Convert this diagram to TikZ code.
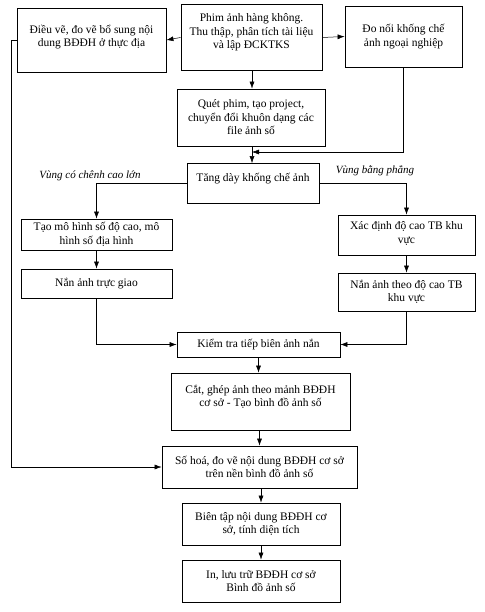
\documentclass[tikz,border=0pt]{standalone}
\usepackage{fontspec}
\setmainfont{Liberation Serif}
\usetikzlibrary{arrows.meta,positioning}
% text set higher than the middle of its box
\newcommand{\lifted}[2]{\raisebox{#1}[0pt][0pt]{\begin{tabular}{@{}c@{}}#2\end{tabular}}}

\begin{document}
\begin{tikzpicture}[
    x=1pt, y=-1pt,
    font=\fontsize{11.5}{13.5}\selectfont,
    stepbox/.style={rectangle, draw, line width=0.8pt, align=center, inner sep=2pt},
    region/.style={font=\fontsize{11}{13}\selectfont\itshape},
    arrow/.style={-{Latex[length=7pt,width=5pt]}, line width=0.5pt},
    link/.style={line width=0.5pt}
]
\useasboundingbox (0,0) rectangle (484,612);

% Top row: source data and field work
\node[stepbox, minimum width=149pt, minimum height=64pt] (edit) at (91.5,40)
    {\lifted{-0.5pt}{Điều vẽ, đo vẽ bổ sung nội\\dung BĐĐH ở thực địa}};
\node[stepbox, minimum width=141pt, minimum height=66pt] (film) at (251.5,37.5)
    {\lifted{2pt}{Phim ảnh hàng không.\\Thu thập, phân tích tài liệu\\và lập ĐCKTKS}};
\node[stepbox, minimum width=117pt, minimum height=61pt] (survey) at (403.5,36.5)
    {\lifted{-3.5pt}{Đo nối khống chế\\ảnh ngoại nghiệp}};

\node[stepbox, minimum width=148pt, minimum height=57pt] (scan) at (251,117.5)
    {Quét phim, tạo project,\\chuyển đổi khuôn dạng các\\file ảnh số};
\node[stepbox, minimum width=132pt, minimum height=40pt] (densify) at (253,183.5)
    {\lifted{1.5pt}{Tăng dày khống chế ảnh}};

% Two branches
\node[stepbox, minimum width=151pt, minimum height=31pt] (dem) at (96.5,234.5)
    {Tạo mô hình số độ cao, mô\\hình số địa hình};
\node[stepbox, minimum width=151pt, minimum height=29pt] (ortho) at (96.5,283.5)
    {Nắn ảnh trực giao};
\node[stepbox, minimum width=137pt, minimum height=40pt] (avgh) at (406.5,235)
    {\lifted{-2pt}{Xác định độ cao TB khu\\vực}};
\node[stepbox, minimum width=137pt, minimum height=38pt] (flat) at (406.5,292)
    {Nắn ảnh theo độ cao TB\\khu vực};

\node[region] (hilly) at (90,176) {Vùng có chênh cao lớn};
\node[region] (plain) at (375,171) {Vùng bằng phẳng};

% Main column
\node[stepbox, minimum width=163pt, minimum height=25pt] (check) at (258.5,344.5)
    {Kiểm tra tiếp biên ảnh nắn};
\node[stepbox, minimum width=179pt, minimum height=57pt] (mosaic) at (260.5,401.5)
    {\lifted{1pt}{Cắt, ghép ảnh theo mảnh BĐĐH\\cơ sở - Tạo bình đồ ảnh số}};
\node[stepbox, minimum width=195pt, minimum height=42pt] (digit) at (259.5,467)
    {Số hoá, đo vẽ nội dung BĐĐH cơ sở\\trên nền bình đồ ảnh số};
\node[stepbox, minimum width=158pt, minimum height=42pt] (compile) at (261,524)
    {Biên tập nội dung BĐĐH cơ\\sở, tính diện tích};
\node[stepbox, minimum width=158pt, minimum height=42pt] (output) at (261,581)
    {In, lưu trữ BĐĐH cơ sở\\Bình đồ ảnh số};

\coordinate (join) at (252,152);

% Connectors
\draw[arrow] (film.west) -- (edit.east);
\draw[arrow] (film.east) -- (survey.west);
\draw[arrow] (film.south -| join) -- (scan.north -| join);
\draw[arrow] (scan.south -| join) -- (densify.north -| join);
\draw[arrow] (survey.south) |- (join);
\draw[arrow] (densify.west) -| (dem.north);
\draw[arrow] (densify.east) -| (avgh.north);
\draw[arrow] (dem) -- (ortho);
\draw[arrow] (avgh) -- (flat);
\draw[arrow] (ortho.south) |- (check.west);
\draw[arrow] (flat.south) |- (check.east);
\draw[arrow] (check.south) -- (mosaic.north -| check.south);
\draw[arrow] (mosaic.south -| digit.north) -- (digit.north);
\draw[arrow] (digit.south -| compile.north) -- (compile.north);
\draw[arrow] (compile) -- (output);
\draw[arrow] (edit.west) -- ++(-5,0) |- (digit.west);

\end{tikzpicture}
\end{document}
